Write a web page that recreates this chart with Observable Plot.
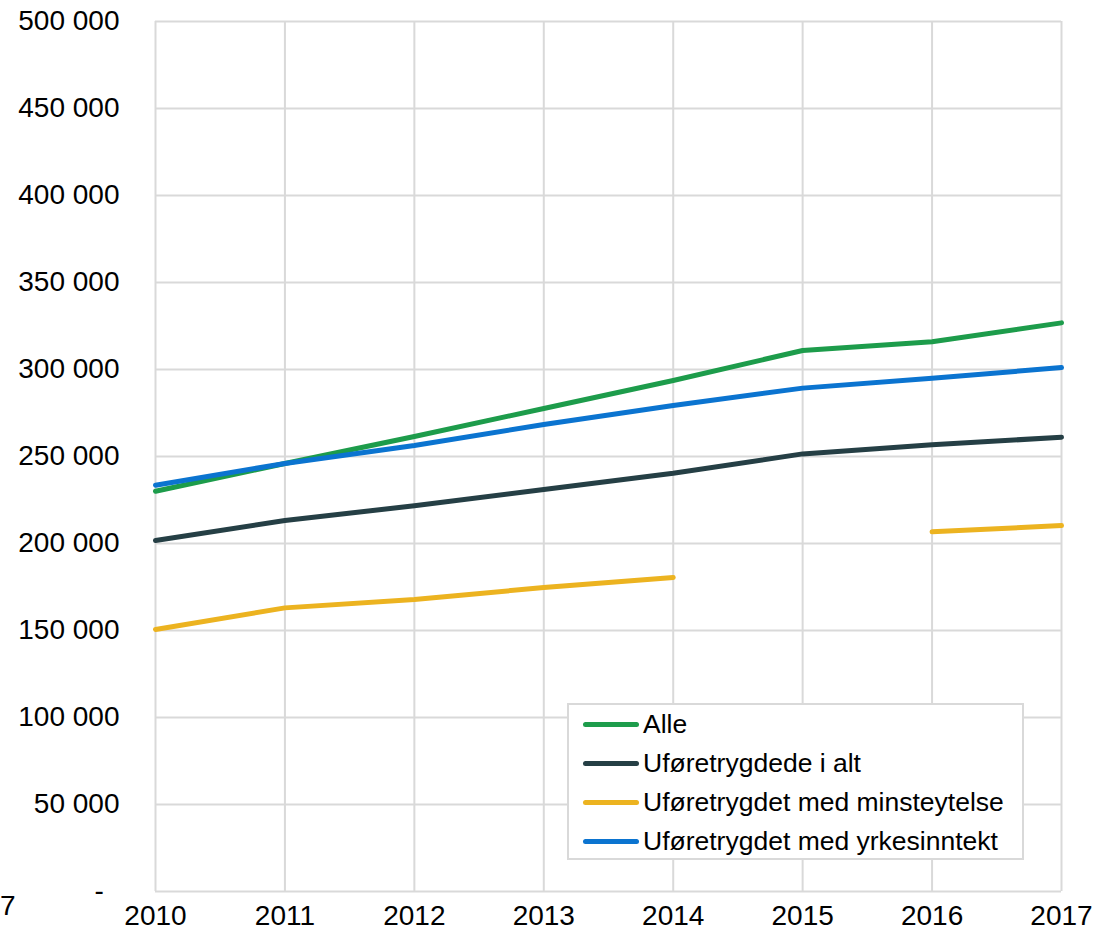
<!DOCTYPE html>
<html>
<head>
<meta charset="utf-8">
<script src="https://cdn.jsdelivr.net/npm/d3@7"></script>
<script src="https://cdn.jsdelivr.net/npm/@observablehq/plot@0.6"></script>
<style>
  html, body { margin: 0; padding: 0; background: #fff; }
  #wrap { position: relative; width: 1104px; height: 932px; font-family: "Liberation Sans", Arial, sans-serif; }
  #stray { position: absolute; left: 0px; top: 890px; font-size: 28px; line-height: 32px; color: #000; }
  #legend { position: absolute; left: 567px; top: 703px; width: 453px; height: 153px; border: 2px solid #d9d9d9; background: #fff; box-sizing: content-box; }
  .row { position: absolute; left: 14px; height: 30px; display: flex; align-items: center; font-size: 26.5px; color: #000; white-space: nowrap; }
  .sw { width: 56px; height: 5px; border-radius: 3px; margin-right: 4px; }
</style>
</head>
<body>
<div id="wrap"><div id="chart"></div><div id="stray">7</div><div id="legend"></div></div>
<script>
const years = [2010, 2011, 2012, 2013, 2014, 2015, 2016, 2017];
const seriesNames = ["Alle", "Uføretrygdede i alt", "Uføretrygdet med minsteytelse", "Uføretrygdet med yrkesinntekt"];
const seriesColors = ["#1d9c4b", "#253f45", "#ecb320", "#0b74d0"];
const alle = [230000, 246000, 261500, 277600, 293700, 310900, 315900, 326800];
const iAlt = [201700, 213200, 221700, 231000, 240400, 251500, 256700, 261100];
const minsteytelse = [150600, 163000, 167800, 174700, 180500, null, 206700, 210300];
const yrkesinntekt = [233500, 246000, 256300, 268400, 279300, 289300, 295000, 301100];
const yTicks = [0, 50000, 100000, 150000, 200000, 250000, 300000, 350000, 400000, 450000, 500000];

const allSeries = [alle, iAlt, minsteytelse, yrkesinntekt];
const data = [];
allSeries.forEach((vals, i) => {
  years.forEach((yr, j) => data.push({series: seriesNames[i], year: yr, value: vals[j]}));
});

const fmt = v => v === 0 ? "-\u00a0\u00a0" : d3.format(",")(v).replace(/,/g, " ");

const chart = Plot.plot({
  width: 1104,
  height: 932,
  marginTop: 21,
  marginBottom: 41,
  marginLeft: 155,
  marginRight: 43,
  style: {fontFamily: "Liberation Sans, Arial, sans-serif", fontSize: "28px", color: "#000", background: "#fff"},
  x: {domain: [2010, 2017], ticks: years, tickFormat: "d", tickSize: 0, tickPadding: 14, label: null},
  y: {domain: [0, 500000], ticks: yTicks, tickFormat: fmt, tickSize: 0, tickPadding: 36, label: null},
  color: {domain: seriesNames, range: seriesColors},
  marks: [
    Plot.gridX(years, {stroke: "#d9d9d9", strokeOpacity: 1, strokeWidth: 2}),
    Plot.gridY(yTicks, {stroke: "#d9d9d9", strokeOpacity: 1, strokeWidth: 2}),
    Plot.axisX({ticks: years, tickFormat: "d", tickSize: 0, tickPadding: 14, label: null}),
    Plot.axisY({ticks: yTicks, tickFormat: fmt, tickSize: 0, tickPadding: 36, label: null}),
    Plot.line(data, {x: "year", y: "value", z: "series", stroke: "series", strokeWidth: 5, strokeLinecap: "round", strokeLinejoin: "round", defined: d => d.value != null})
  ]
});
document.getElementById("chart").appendChild(chart);

const legend = document.getElementById("legend");
const rowTops = [4, 43, 82, 121];
seriesNames.forEach((name, i) => {
  const row = document.createElement("div");
  row.className = "row";
  row.style.top = rowTops[i] + "px";
  const sw = document.createElement("div");
  sw.className = "sw";
  sw.style.background = seriesColors[i];
  const lab = document.createElement("span");
  lab.textContent = name;
  row.appendChild(sw);
  row.appendChild(lab);
  legend.appendChild(row);
});
</script>
</body>
</html>
